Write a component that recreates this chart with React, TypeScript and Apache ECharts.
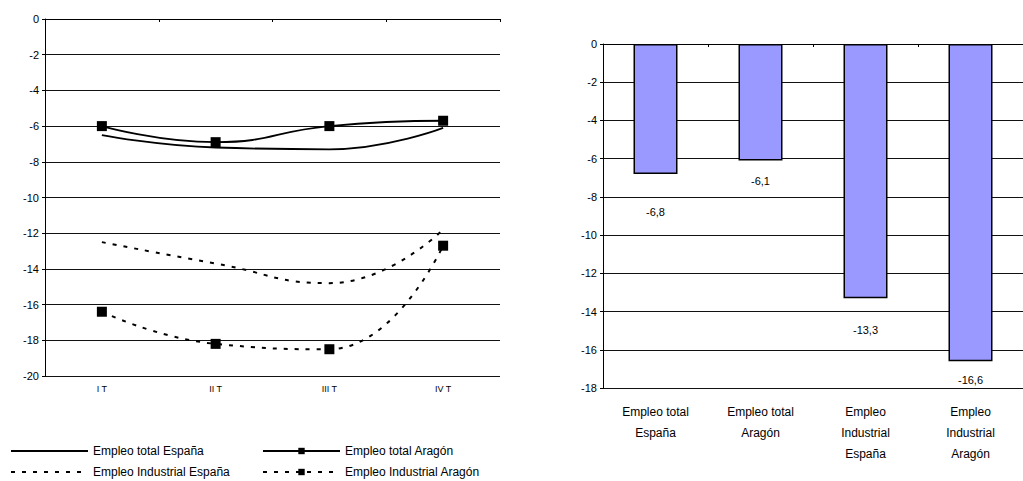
import React, { useEffect, useRef } from "react";
import * as echarts from "echarts";

// ---- Data ----
const quarters = ["I T", "II T", "III T", "IV T"];
const seriesNames = [
  "Empleo total España",
  "Empleo total Aragón",
  "Empleo Industrial España",
  "Empleo Industrial Aragón",
];
const totalEspana = [-6.5, -7.2, -7.3, -6.1];
const totalAragon = [-6.0, -6.9, -6.0, -5.7];
const industrialEspana = [-12.5, -13.7, -14.8, -11.8];
const industrialAragon = [-16.4, -18.2, -18.5, -12.7];

const barCategories = [
  "Empleo total\nEspaña",
  "Empleo total\nAragón",
  "Empleo\nIndustrial\nEspaña",
  "Empleo\nIndustrial\nAragón",
];
const barValues = [-6.8, -6.1, -13.3, -16.6];

// label distances below bar ends (styling)
const barLabelDistance = [33, 15, 26, 13];

const FONT = "'Liberation Sans', Arial, sans-serif";
const BLACK = "#000";

const ls = (color = BLACK, width = 1) => ({ color, width });

export default function App() {
  const ref = useRef<HTMLDivElement>(null);

  useEffect(() => {
    if (!ref.current) return;
    const chart = echarts.init(ref.current, undefined, { renderer: "svg" });

    const legendItem = (name: string, left: number, top: number, hideMarker: boolean) => ({
      orient: "horizontal",
      padding: 0,
      itemWidth: 77,
      itemHeight: 8,
      textStyle: { fontSize: 12, color: BLACK, fontFamily: FONT },
      selectedMode: false,
      data: [name],
      left,
      top,
      ...(hideMarker
        ? { itemStyle: { color: "rgba(0,0,0,0)", borderColor: "rgba(0,0,0,0)", borderWidth: 0 } }
        : {}),
    });

    const topAxis = (gridIndex: number, data: string[]) => ({
      gridIndex,
      type: "category",
      data,
      position: "top",
      axisLine: { show: true, onZero: false, lineStyle: ls() },
      axisTick: { show: true, inside: true, length: 3, lineStyle: ls() },
      splitLine: { show: false },
      axisLabel: { show: false },
    });

    const valueAxis = (gridIndex: number, min: number) => ({
      gridIndex,
      type: "value",
      position: "left",
      min,
      max: 0,
      interval: 2,
      axisLine: { show: true, onZero: false, lineStyle: ls() },
      axisTick: { show: true, length: 3, lineStyle: ls() },
      splitLine: { show: true, lineStyle: ls("#111") },
      axisLabel: { color: BLACK, fontSize: 11, margin: 6, fontFamily: FONT },
    });

    const lineSeries = (idx: number, data: number[], marker: boolean, dashed: boolean) => ({
      name: seriesNames[idx],
      type: "line",
      xAxisIndex: 0,
      yAxisIndex: 0,
      data,
      smooth: 0.5,
      symbol: marker ? "rect" : "none",
      symbolSize: 10,
      lineStyle: { color: BLACK, width: dashed ? 2 : 1.8, type: dashed ? [4, 7] : "solid" },
      itemStyle: { color: BLACK },
    });

    const option: any = {
      animation: false,
      backgroundColor: "#fff",
      textStyle: { fontFamily: FONT, color: BLACK },
      legend: [
        legendItem(seriesNames[0], 10, 445, true),
        legendItem(seriesNames[1], 262, 445, false),
        legendItem(seriesNames[2], 10, 466, true),
        legendItem(seriesNames[3], 262, 466, false),
      ],
      grid: [
        { left: 45, top: 19, width: 455, height: 357, show: false },
        { left: 603, top: 44, right: -11, height: 344, show: false },
      ],
      xAxis: [
        {
          gridIndex: 0,
          type: "category",
          data: quarters,
          position: "bottom",
          axisLine: { show: false, onZero: false },
          axisTick: { show: false },
          splitLine: { show: false },
          axisLabel: { color: BLACK, fontSize: 9, margin: 8, fontFamily: FONT },
        },
        topAxis(0, quarters),
        {
          gridIndex: 1,
          type: "category",
          data: barCategories,
          position: "bottom",
          axisLine: { show: false, onZero: false },
          axisTick: { show: false },
          splitLine: { show: false },
          axisLabel: {
            color: BLACK,
            fontSize: 12,
            lineHeight: 21,
            margin: 13,
            fontFamily: FONT,
            interval: 0,
          },
        },
        topAxis(1, barCategories),
      ],
      yAxis: [valueAxis(0, -20), valueAxis(1, -18)],
      series: [
        lineSeries(0, totalEspana, false, false),
        lineSeries(1, totalAragon, true, false),
        lineSeries(2, industrialEspana, false, true),
        lineSeries(3, industrialAragon, true, true),
        {
          name: "Variación",
          type: "bar",
          xAxisIndex: 2,
          yAxisIndex: 1,
          barWidth: 44,
          data: barValues.map((v, i) => ({
            value: v,
            label: { distance: barLabelDistance[i] },
          })),
          itemStyle: { color: "#9999FF", borderColor: BLACK, borderWidth: 1.5 },
          label: {
            show: true,
            position: "bottom",
            color: BLACK,
            fontSize: 11,
            fontFamily: FONT,
            formatter: (p: any) => String(p.value).replace(".", ","),
          },
        },
      ],
    };

    chart.setOption(option);
    return () => chart.dispose();
  }, []);

  return (
    <div
      ref={ref}
      style={{ position: "fixed", left: 0, top: 0, width: 1023, height: 481, background: "#fff" }}
    />
  );
}
